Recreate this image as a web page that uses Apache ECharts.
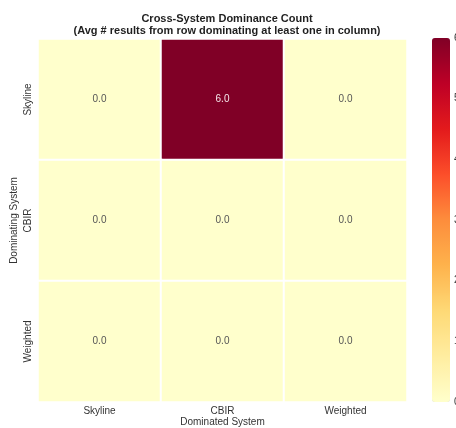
<!DOCTYPE html>
<html>
<head>
<meta charset="UTF-8">
<title>Cross-System Dominance Count</title>
<script src="https://cdn.jsdelivr.net/npm/echarts@6/dist/echarts.min.js"></script>
<style>
  html, body { margin: 0; padding: 0; background: #fff; }
  #main { width: 456px; height: 428px; }
</style>
</head>
<body>
<div id="main"></div>
<script>
// data
var colSystems = ['Skyline', 'CBIR', 'Weighted'];   // dominated (x)
var rowSystems = ['Skyline', 'CBIR', 'Weighted'];   // dominating (y)
var skylineRow = [0.0, 6.0, 0.0];
var cbirRow = [0.0, 0.0, 0.0];
var weightedRow = [0.0, 0.0, 0.0];
var colorbarTicks = [0, 1, 2, 3, 4, 5, 6];

var rows = [skylineRow, cbirRow, weightedRow];
var cells = [];
for (var r = 0; r < rows.length; r++) {
  for (var c = 0; c < rows[r].length; c++) {
    var v = rows[r][c];
    cells.push({ value: [c, r, v], label: { color: v > 3 ? '#f5e6ea' : '#555' } });
  }
}

var font = 'Liberation Sans, Arial, sans-serif';
var chart = echarts.init(document.getElementById('main'));

chart.setOption({
  animation: false,
  title: {
    text: 'Cross-System Dominance Count\n(Avg # results from row dominating at least one in column)',
    left: 222, top: 8, textAlign: 'center',
    textStyle: { fontFamily: font, fontSize: 11, fontWeight: 'bold', color: '#1f1f1f', lineHeight: 12 }
  },
  grid: [
    { left: 38, top: 39, width: 369, height: 363, outerBoundsMode: 'none', containLabel: false },
    { left: 432, top: 38, width: 18, height: 364, outerBoundsMode: 'none', containLabel: false }
  ],
  xAxis: [{
    type: 'category', data: colSystems, gridIndex: 0,
    name: 'Dominated System', nameLocation: 'middle', nameGap: 15, nameMoveOverlap: false,
    nameTextStyle: { fontFamily: font, fontSize: 10, color: '#333' },
    axisLine: { show: false }, axisTick: { show: false },
    axisLabel: { fontFamily: font, fontSize: 10, color: '#333', margin: 4 },
    splitLine: { show: false }
  }, {
    type: 'value', gridIndex: 1, show: false
  }],
  yAxis: [{
    type: 'category', data: rowSystems, inverse: true, gridIndex: 0,
    name: 'Dominating System', nameLocation: 'middle', nameGap: 19, nameRotate: 90, nameMoveOverlap: false,
    nameTextStyle: { fontFamily: font, fontSize: 10, color: '#333' },
    axisLine: { show: false }, axisTick: { show: false },
    axisLabel: { fontFamily: font, fontSize: 10, color: '#333', rotate: 90, margin: 5 },
    splitLine: { show: false }
  }, {
    type: 'value', gridIndex: 1, position: 'right', min: 0, max: 6, interval: 1,
    axisLine: { show: false },
    axisTick: { show: false },
    axisLabel: { fontFamily: font, fontSize: 10, color: '#333', margin: 4,
      formatter: function (v) { return colorbarTicks.indexOf(v) >= 0 ? String(v) : ''; } },
    splitLine: { show: false }
  }],
  visualMap: {
    type: 'continuous', min: 0, max: 6, seriesIndex: 0,
    calculable: false, realtime: false, padding: 0,
    left: 432, top: 38, itemWidth: 18, itemHeight: 364,
    showLabel: false,
    inRange: { color: ['#ffffcc', '#ffeda0', '#fed976', '#feb24c', '#fd8d3c', '#fc4e2a', '#e31a1c', '#bd0026', '#800026'] }
  },
  series: [{
    type: 'heatmap', xAxisIndex: 0, yAxisIndex: 0, data: cells,
    itemStyle: { borderColor: '#fff', borderWidth: 2 },
    label: {
      show: true, fontFamily: font, fontSize: 10,
      formatter: function (p) { return p.value[2].toFixed(1); }
    },
    emphasis: { disabled: true }
  }]
});
</script>
</body>
</html>
